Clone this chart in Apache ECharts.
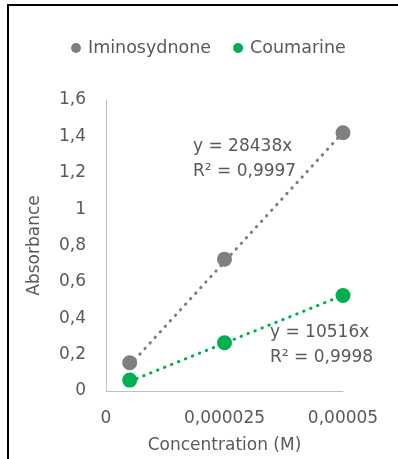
<!DOCTYPE html>
<html>
<head>
<meta charset="utf-8">
<script src="https://cdn.jsdelivr.net/npm/echarts@6/dist/echarts.min.js"></script>
<style>html,body{margin:0;padding:0;background:#fff;}#c{width:398px;height:459px;}</style>
</head>
<body>
<div id="c"></div>
<script>
const seriesNames = ['Iminosydnone', 'Coumarine'];
const concentration = [0.000005, 0.000025, 0.00005];
const iminoAbs = [0.155, 0.725, 1.42];
const coumAbs = [0.06, 0.265, 0.525];
const iminoTrend = [[0.000005, 0.142], [0.00005, 1.422]];
const coumTrend = [[0.000005, 0.053], [0.00005, 0.526]];
const iminoEq = ['y = 28438x', 'R² = 0,9997'];
const coumEq = ['y = 10516x', 'R² = 0,9998'];
const yTicks = [0, 0.2, 0.4, 0.6, 0.8, 1, 1.2, 1.4, 1.6];
const xTicks = [0, 0.000025, 0.00005];

const FONT = 'DejaVu Sans';
const TXT = '#595959';
const GREY = '#7f7f7f';
const GREEN = '#00b050';

function fmt(v) {
  if (v === 0) return '0';
  let s;
  if (Math.abs(v) < 0.001) s = v.toFixed(6).replace(/0+$/, '');
  else s = String(Math.round(v * 1000) / 1000);
  return s.replace('.', ',');
}

const chart = echarts.init(document.getElementById('c'), null, {renderer: 'canvas'});
const dotted = {width: 3, type: [0.5, 7], cap: 'round'};
chart.setOption({
  animation: false,
  backgroundColor: '#fff',
  textStyle: {fontFamily: FONT},
  legend: {
    top: 34,
    left: 66,
    data: seriesNames,
    icon: 'circle',
    itemWidth: 10,
    itemHeight: 10,
    itemGap: 22,
    textStyle: {fontFamily: FONT, fontSize: 17.5, color: TXT, padding: [0, 0, 0, 2]}
  },
  grid: {left: 106, right: 55, top: 100, bottom: 66, containLabel: false},
  xAxis: {
    type: 'value',
    min: 0, max: 0.00005, interval: 0.000025,
    name: 'Concentration (M)',
    nameLocation: 'middle',
    nameGap: 46,
    nameTextStyle: {fontFamily: FONT, fontSize: 17, color: TXT},
    axisLine: {lineStyle: {color: '#bfbfbf', width: 1}},
    axisTick: {show: false},
    splitLine: {show: false},
    axisLabel: {fontFamily: FONT, fontSize: 17, color: TXT, margin: 19,
      formatter: v => fmt(v), customValues: xTicks}
  },
  yAxis: {
    type: 'value',
    min: 0, max: 1.6, interval: 0.2,
    name: 'Absorbance',
    nameLocation: 'middle',
    nameGap: 63,
    nameTextStyle: {fontFamily: FONT, fontSize: 17, color: TXT},
    axisLine: {show: true, lineStyle: {color: '#bfbfbf', width: 1}},
    axisTick: {show: false},
    splitLine: {show: false},
    axisLabel: {fontFamily: FONT, fontSize: 17, color: TXT, margin: 20,
      formatter: v => fmt(v), customValues: yTicks}
  },
  series: [
    {name: 'Iminosydnone trend', type: 'line', data: iminoTrend, symbol: 'none',
      lineStyle: Object.assign({color: GREY}, dotted), z: 1, silent: true},
    {name: 'Coumarine trend', type: 'line', data: coumTrend, symbol: 'none',
      lineStyle: Object.assign({color: GREEN}, dotted), z: 1, silent: true},
    {name: seriesNames[0], type: 'scatter', symbol: 'circle', symbolSize: 15,
      itemStyle: {color: GREY, opacity: 1}, z: 3,
      data: concentration.map((c, i) => [c, iminoAbs[i]])},
    {name: seriesNames[1], type: 'scatter', symbol: 'circle', symbolSize: 15,
      itemStyle: {color: GREEN, opacity: 1}, z: 3,
      data: concentration.map((c, i) => [c, coumAbs[i]])}
  ],
  graphic: [
    {type: 'text', left: 193, top: 134, z: 10,
      style: {text: iminoEq.join('\n'), fill: TXT, font: '17px "' + FONT + '"', lineHeight: 25}},
    {type: 'text', left: 270, top: 320, z: 10,
      style: {text: coumEq.join('\n'), fill: TXT, font: '17px "' + FONT + '"', lineHeight: 25}},
    {type: 'line', shape: {x1: 8, y1: 4, x2: 8, y2: 459}, style: {stroke: '#000', lineWidth: 2}, z: 20},
    {type: 'line', shape: {x1: 7, y1: 5, x2: 398, y2: 5}, style: {stroke: '#000', lineWidth: 2}, z: 20}
  ]
});
</script>
</body>
</html>
